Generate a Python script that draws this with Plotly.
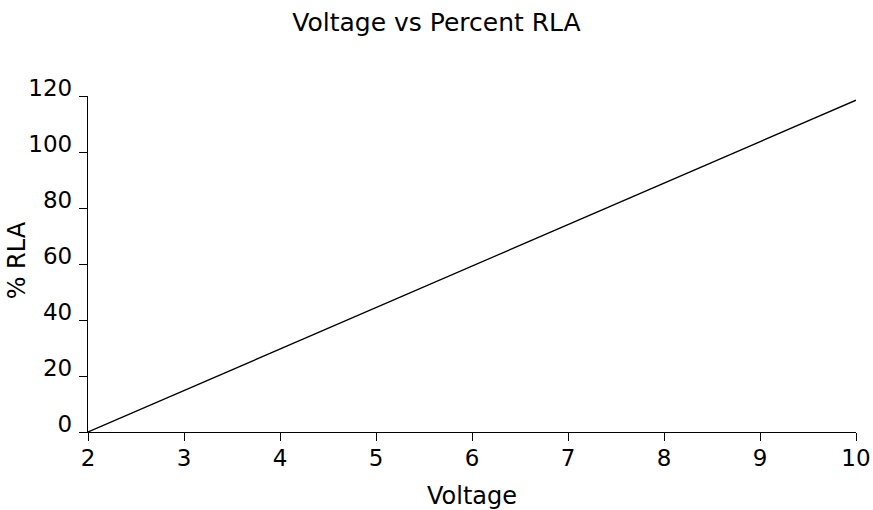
import plotly.graph_objects as go

voltage = [2, 10]
percent_rla = [0, 118.5]
x_ticks = [2, 3, 4, 5, 6, 7, 8, 9, 10]
y_ticks = [0, 20, 40, 60, 80, 100, 120]

FONT = "DejaVu Sans"

fig = go.Figure()
fig.add_trace(go.Scatter(x=voltage, y=percent_rla, mode="lines",
                         line=dict(color="black", width=1.3), showlegend=False,
                         cliponaxis=False))

fig.update_layout(
    width=873, height=510,
    margin=dict(l=88, r=17, t=96, b=78, autoexpand=False),
    paper_bgcolor="white", plot_bgcolor="white",
    font=dict(family=FONT, color="black", size=22),
    title=dict(text="Voltage vs Percent RLA", x=0.5, xanchor="center",
               y=0.957, yanchor="middle", font=dict(size=25, family=FONT)),
)
fig.update_xaxes(range=[2, 10], tickvals=x_ticks, showgrid=False, zeroline=False,
                 showline=True, linecolor="black", linewidth=1.3,
                 ticks="outside", ticklen=8, tickcolor="black", tickwidth=1.3,
                 tickfont=dict(size=23), automargin=False, ticklabelstandoff=-3,
                 title=dict(text="Voltage", font=dict(size=24), standoff=17))
fig.update_yaxes(range=[0, 120], tickvals=y_ticks, showgrid=False, zeroline=False,
                 showline=True, linecolor="black", linewidth=1.3,
                 ticks="outside", ticklen=8, tickcolor="black", tickwidth=1.3,
                 tickfont=dict(size=23), ticklabelshift=-8, ticklabelstandoff=2,
                 automargin=False)

fig.add_annotation(text="% RLA", xref="paper", yref="paper",
                   x=-0.092, y=0.512, xanchor="center", yanchor="middle",
                   textangle=-90, showarrow=False, font=dict(size=24, family=FONT))

fig.write_html("out.html", config={"displayModeBar": False},
               post_script="document.body.style.margin='0';")
